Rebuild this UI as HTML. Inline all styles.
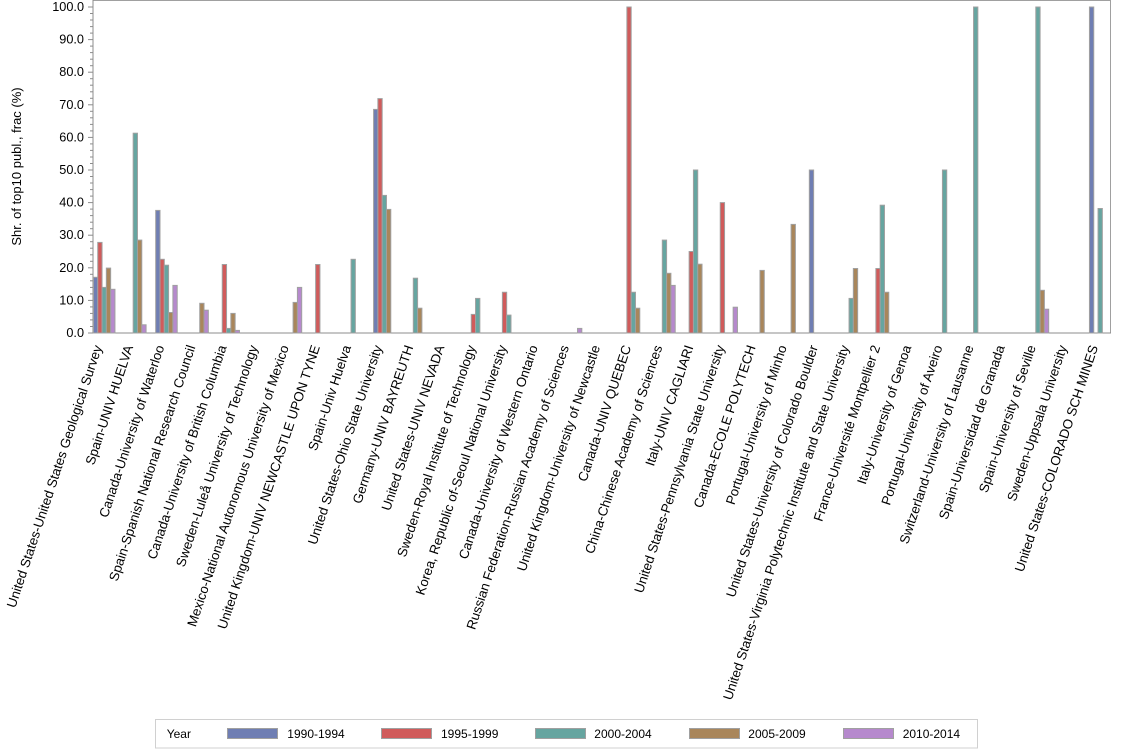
<!DOCTYPE html>
<html>
<head>
<meta charset="utf-8">
<style>
  html,body{margin:0;padding:0;background:#fff;}
  svg{display:block;}
  text{font-family:"Liberation Sans",Arial,sans-serif;fill:#000;}
</style>
</head>
<body>
<svg width="1134" height="756" viewBox="0 0 1134 756" xmlns="http://www.w3.org/2000/svg">
  <rect x="0" y="0" width="1134" height="756" fill="#fff"/>

  <!-- frame -->
  <path d="M93 0.5 H1110.5 V333" fill="none" stroke="#a0a0a0" stroke-width="1"/>
  <line x1="93" y1="0" x2="93" y2="333.5" stroke="#8c8c8c" stroke-width="1"/>
  <line x1="92.5" y1="333" x2="1111" y2="333" stroke="#8c8c8c" stroke-width="1"/>

  <!-- y ticks -->
  <g stroke="#8c8c8c" stroke-width="1">
    <line x1="88" y1="333" x2="93" y2="333"/>
    <line x1="88" y1="300.4" x2="93" y2="300.4"/>
    <line x1="88" y1="267.8" x2="93" y2="267.8"/>
    <line x1="88" y1="235.2" x2="93" y2="235.2"/>
    <line x1="88" y1="202.6" x2="93" y2="202.6"/>
    <line x1="88" y1="170" x2="93" y2="170"/>
    <line x1="88" y1="137.4" x2="93" y2="137.4"/>
    <line x1="88" y1="104.8" x2="93" y2="104.8"/>
    <line x1="88" y1="72.2" x2="93" y2="72.2"/>
    <line x1="88" y1="39.6" x2="93" y2="39.6"/>
    <line x1="88" y1="7" x2="93" y2="7"/>
  </g>
  <g stroke="#8c8c8c" stroke-width="1">
    <line x1="90" y1="326.5" x2="93" y2="326.5"/><line x1="90" y1="319.9" x2="93" y2="319.9"/><line x1="90" y1="313.4" x2="93" y2="313.4"/><line x1="90" y1="306.9" x2="93" y2="306.9"/>
    <line x1="90" y1="293.9" x2="93" y2="293.9"/><line x1="90" y1="287.4" x2="93" y2="287.4"/><line x1="90" y1="280.8" x2="93" y2="280.8"/><line x1="90" y1="274.3" x2="93" y2="274.3"/>
    <line x1="90" y1="261.3" x2="93" y2="261.3"/><line x1="90" y1="254.8" x2="93" y2="254.8"/><line x1="90" y1="248.2" x2="93" y2="248.2"/><line x1="90" y1="241.7" x2="93" y2="241.7"/>
    <line x1="90" y1="228.7" x2="93" y2="228.7"/><line x1="90" y1="222.2" x2="93" y2="222.2"/><line x1="90" y1="215.6" x2="93" y2="215.6"/><line x1="90" y1="209.1" x2="93" y2="209.1"/>
    <line x1="90" y1="196.1" x2="93" y2="196.1"/><line x1="90" y1="189.6" x2="93" y2="189.6"/><line x1="90" y1="183" x2="93" y2="183"/><line x1="90" y1="176.5" x2="93" y2="176.5"/>
    <line x1="90" y1="163.5" x2="93" y2="163.5"/><line x1="90" y1="157" x2="93" y2="157"/><line x1="90" y1="150.4" x2="93" y2="150.4"/><line x1="90" y1="143.9" x2="93" y2="143.9"/>
    <line x1="90" y1="130.9" x2="93" y2="130.9"/><line x1="90" y1="124.4" x2="93" y2="124.4"/><line x1="90" y1="117.8" x2="93" y2="117.8"/><line x1="90" y1="111.3" x2="93" y2="111.3"/>
    <line x1="90" y1="98.3" x2="93" y2="98.3"/><line x1="90" y1="91.8" x2="93" y2="91.8"/><line x1="90" y1="85.2" x2="93" y2="85.2"/><line x1="90" y1="78.7" x2="93" y2="78.7"/>
    <line x1="90" y1="65.7" x2="93" y2="65.7"/><line x1="90" y1="59.2" x2="93" y2="59.2"/><line x1="90" y1="52.6" x2="93" y2="52.6"/><line x1="90" y1="46.1" x2="93" y2="46.1"/>
    <line x1="90" y1="33.1" x2="93" y2="33.1"/><line x1="90" y1="26.6" x2="93" y2="26.6"/><line x1="90" y1="20" x2="93" y2="20"/><line x1="90" y1="13.5" x2="93" y2="13.5"/>
  </g>

  <!-- y tick labels -->
  <g font-size="12.7" text-anchor="end">
    <text x="84" y="337">0.0</text>
    <text x="84" y="304.4">10.0</text>
    <text x="84" y="271.8">20.0</text>
    <text x="84" y="239.2">30.0</text>
    <text x="84" y="206.6">40.0</text>
    <text x="84" y="174">50.0</text>
    <text x="84" y="141.4">60.0</text>
    <text x="84" y="108.8">70.0</text>
    <text x="84" y="76.2">80.0</text>
    <text x="84" y="43.6">90.0</text>
    <text x="84" y="11">100.0</text>
  </g>

  <!-- y title -->
  <text font-size="13" text-anchor="middle" transform="translate(21,166.5) rotate(-90)">Shr. of top10 publ., frac (%)</text>

  <!-- bars -->
  <g stroke="#a0a0a0" stroke-width="1">
    <!-- 0 USGS -->
    <rect x="93.45" y="277.3" width="4.3" height="55.7" fill="#6F7EB3"/>
    <rect x="97.75" y="242.4" width="4.3" height="90.6" fill="#D05B5B"/>
    <rect x="102.05" y="287.4" width="4.3" height="45.6" fill="#66A5A0"/>
    <rect x="106.35" y="268.1" width="4.3" height="64.9" fill="#A9865B"/>
    <rect x="110.65" y="289.3" width="4.3" height="43.7" fill="#B689CD"/>
    <!-- 1 Spain-UNIV HUELVA -->
    <rect x="133.18" y="133.2" width="4.3" height="199.8" fill="#66A5A0"/>
    <rect x="137.48" y="240.1" width="4.3" height="92.9" fill="#A9865B"/>
    <rect x="141.78" y="324.8" width="4.3" height="8.2" fill="#B689CD"/>
    <!-- 2 Waterloo -->
    <rect x="155.7" y="210.4" width="4.3" height="122.6" fill="#6F7EB3"/>
    <rect x="160.0" y="259.3" width="4.3" height="73.7" fill="#D05B5B"/>
    <rect x="164.3" y="265.2" width="4.3" height="67.8" fill="#66A5A0"/>
    <rect x="168.6" y="312.5" width="4.3" height="20.5" fill="#A9865B"/>
    <rect x="172.9" y="285.4" width="4.3" height="47.6" fill="#B689CD"/>
    <!-- 3 CSIC -->
    <rect x="199.73" y="303.3" width="4.3" height="29.7" fill="#A9865B"/>
    <rect x="204.03" y="310.2" width="4.3" height="22.8" fill="#B689CD"/>
    <!-- 4 UBC -->
    <rect x="222.25" y="264.5" width="4.3" height="68.5" fill="#D05B5B"/>
    <rect x="226.55" y="328.4" width="4.3" height="4.6" fill="#66A5A0"/>
    <rect x="230.85" y="313.4" width="4.3" height="19.6" fill="#A9865B"/>
    <rect x="235.15" y="330.4" width="4.3" height="2.6" fill="#B689CD"/>
    <!-- 6 Mexico -->
    <rect x="293.1" y="302.4" width="4.3" height="30.6" fill="#A9865B"/>
    <rect x="297.4" y="287.4" width="4.3" height="45.6" fill="#B689CD"/>
    <!-- 7 Newcastle upon Tyne -->
    <rect x="315.63" y="264.5" width="4.3" height="68.5" fill="#D05B5B"/>
    <!-- 8 Spain-Univ Huelva -->
    <rect x="351.05" y="259.3" width="4.3" height="73.7" fill="#66A5A0"/>
    <!-- 9 Ohio State -->
    <rect x="373.58" y="109.4" width="4.3" height="223.6" fill="#6F7EB3"/>
    <rect x="377.88" y="98.6" width="4.3" height="234.4" fill="#D05B5B"/>
    <rect x="382.18" y="195.4" width="4.3" height="137.6" fill="#66A5A0"/>
    <rect x="386.48" y="209.4" width="4.3" height="123.6" fill="#A9865B"/>
    <!-- 10 Bayreuth -->
    <rect x="413.3" y="278.2" width="4.3" height="54.8" fill="#66A5A0"/>
    <rect x="417.6" y="308.2" width="4.3" height="24.8" fill="#A9865B"/>
    <!-- 12 KTH -->
    <rect x="471.25" y="314.4" width="4.3" height="18.6" fill="#D05B5B"/>
    <rect x="475.55" y="298.4" width="4.3" height="34.6" fill="#66A5A0"/>
    <!-- 13 Seoul -->
    <rect x="502.38" y="292.25" width="4.3" height="40.75" fill="#D05B5B"/>
    <rect x="506.68" y="315.1" width="4.3" height="17.9" fill="#66A5A0"/>
    <!-- 15 Russian Academy -->
    <rect x="577.53" y="328.4" width="4.3" height="4.6" fill="#B689CD"/>
    <!-- 17 UNIV QUEBEC -->
    <rect x="626.88" y="7" width="4.3" height="326" fill="#D05B5B"/>
    <rect x="631.18" y="292.25" width="4.3" height="40.75" fill="#66A5A0"/>
    <rect x="635.48" y="308.2" width="4.3" height="24.8" fill="#A9865B"/>
    <!-- 18 CAS -->
    <rect x="662.3" y="240.1" width="4.3" height="92.9" fill="#66A5A0"/>
    <rect x="666.6" y="273.3" width="4.3" height="59.7" fill="#A9865B"/>
    <rect x="670.9" y="285.4" width="4.3" height="47.6" fill="#B689CD"/>
    <!-- 19 Cagliari -->
    <rect x="689.13" y="251.5" width="4.3" height="81.5" fill="#D05B5B"/>
    <rect x="693.43" y="170" width="4.3" height="163" fill="#66A5A0"/>
    <rect x="697.73" y="264.2" width="4.3" height="68.8" fill="#A9865B"/>
    <!-- 20 Penn State -->
    <rect x="720.25" y="202.6" width="4.3" height="130.4" fill="#D05B5B"/>
    <rect x="733.15" y="307.2" width="4.3" height="25.8" fill="#B689CD"/>
    <!-- 21 Ecole Polytech -->
    <rect x="759.98" y="270.4" width="4.3" height="62.6" fill="#A9865B"/>
    <!-- 22 Minho -->
    <rect x="791.1" y="224.4" width="4.3" height="108.6" fill="#A9865B"/>
    <!-- 23 Colorado Boulder -->
    <rect x="809.33" y="170" width="4.3" height="163" fill="#6F7EB3"/>
    <!-- 24 Virginia Tech -->
    <rect x="849.05" y="298.4" width="4.3" height="34.6" fill="#66A5A0"/>
    <rect x="853.35" y="268.5" width="4.3" height="64.5" fill="#A9865B"/>
    <!-- 25 Montpellier -->
    <rect x="875.88" y="268.5" width="4.3" height="64.5" fill="#D05B5B"/>
    <rect x="880.18" y="205.2" width="4.3" height="127.8" fill="#66A5A0"/>
    <rect x="884.48" y="292.25" width="4.3" height="40.75" fill="#A9865B"/>
    <!-- 27 Aveiro -->
    <rect x="942.43" y="170" width="4.3" height="163" fill="#66A5A0"/>
    <!-- 28 Lausanne -->
    <rect x="973.55" y="7" width="4.3" height="326" fill="#66A5A0"/>
    <!-- 30 Seville -->
    <rect x="1035.8" y="7" width="4.3" height="326" fill="#66A5A0"/>
    <rect x="1040.1" y="290.3" width="4.3" height="42.7" fill="#A9865B"/>
    <rect x="1044.4" y="309.2" width="4.3" height="23.8" fill="#B689CD"/>
    <!-- 32 Colorado Sch Mines -->
    <rect x="1089.45" y="7" width="4.3" height="326" fill="#6F7EB3"/>
    <rect x="1098.05" y="208.5" width="4.3" height="124.5" fill="#66A5A0"/>
  </g>

  <!-- x labels -->
  <g font-size="13.3" text-anchor="end">
    <text transform="translate(102.2,347) rotate(-71.6)">United States-United States Geological Survey</text>
    <text transform="translate(133.33,347) rotate(-71.6)">Spain-UNIV HUELVA</text>
    <text transform="translate(164.45,347) rotate(-71.6)">Canada-University of Waterloo</text>
    <text transform="translate(195.58,347) rotate(-71.6)">Spain-Spanish National Research Council</text>
    <text transform="translate(226.7,347) rotate(-71.6)">Canada-University of British Columbia</text>
    <text transform="translate(257.83,347) rotate(-71.6)">Sweden-Luleå University of Technology</text>
    <text transform="translate(288.95,347) rotate(-71.6)">Mexico-National Autonomous University of Mexico</text>
    <text transform="translate(320.08,347) rotate(-71.6)">United Kingdom-UNIV NEWCASTLE UPON TYNE</text>
    <text transform="translate(351.2,347) rotate(-71.6)">Spain-Univ Huelva</text>
    <text transform="translate(382.33,347) rotate(-71.6)">United States-Ohio State University</text>
    <text transform="translate(413.45,347) rotate(-71.6)">Germany-UNIV BAYREUTH</text>
    <text transform="translate(444.58,347) rotate(-71.6)">United States-UNIV NEVADA</text>
    <text transform="translate(475.7,347) rotate(-71.6)">Sweden-Royal Institute of Technology</text>
    <text transform="translate(506.83,347) rotate(-71.6)">Korea, Republic of-Seoul National University</text>
    <text transform="translate(537.95,347) rotate(-71.6)">Canada-University of Western Ontario</text>
    <text transform="translate(569.08,347) rotate(-71.6)">Russian Federation-Russian Academy of Sciences</text>
    <text transform="translate(600.2,347) rotate(-71.6)">United Kingdom-University of Newcastle</text>
    <text transform="translate(631.33,347) rotate(-71.6)">Canada-UNIV QUEBEC</text>
    <text transform="translate(662.45,347) rotate(-71.6)">China-Chinese Academy of Sciences</text>
    <text transform="translate(693.58,347) rotate(-71.6)">Italy-UNIV CAGLIARI</text>
    <text transform="translate(724.7,347) rotate(-71.6)">United States-Pennsylvania State University</text>
    <text transform="translate(755.83,347) rotate(-71.6)">Canada-ECOLE POLYTECH</text>
    <text transform="translate(786.95,347) rotate(-71.6)">Portugal-University of Minho</text>
    <text transform="translate(818.08,347) rotate(-71.6)">United States-University of Colorado Boulder</text>
    <text transform="translate(849.2,347) rotate(-71.6)">United States-Virginia Polytechnic Institute and State University</text>
    <text transform="translate(880.33,347) rotate(-71.6)">France-Université Montpellier 2</text>
    <text transform="translate(911.45,347) rotate(-71.6)">Italy-University of Genoa</text>
    <text transform="translate(942.58,347) rotate(-71.6)">Portugal-University of Aveiro</text>
    <text transform="translate(973.7,347) rotate(-71.6)">Switzerland-University of Lausanne</text>
    <text transform="translate(1004.83,347) rotate(-71.6)">Spain-Universidad de Granada</text>
    <text transform="translate(1035.95,347) rotate(-71.6)">Spain-University of Seville</text>
    <text transform="translate(1067.08,347) rotate(-71.6)">Sweden-Uppsala University</text>
    <text transform="translate(1098.2,347) rotate(-71.6)">United States-COLORADO SCH MINES</text>
  </g>

  <!-- legend -->
  <rect x="155.5" y="719.5" width="822" height="28.5" fill="#fff" stroke="#d0d0d0" stroke-width="1"/>
  <g font-size="12">
    <text x="166.7" y="738">Year</text>
    <rect x="227.5" y="728.5" width="50" height="10" fill="#6F7EB3" stroke="#a0a0a0" stroke-width="1"/>
    <text x="287.3" y="738">1990-1994</text>
    <rect x="381.5" y="728.5" width="50" height="10" fill="#D05B5B" stroke="#a0a0a0" stroke-width="1"/>
    <text x="441" y="738">1995-1999</text>
    <rect x="535.5" y="728.5" width="50" height="10" fill="#66A5A0" stroke="#a0a0a0" stroke-width="1"/>
    <text x="594.3" y="738">2000-2004</text>
    <rect x="689.5" y="728.5" width="50" height="10" fill="#A9865B" stroke="#a0a0a0" stroke-width="1"/>
    <text x="748.3" y="738">2005-2009</text>
    <rect x="843.5" y="728.5" width="50" height="10" fill="#B689CD" stroke="#a0a0a0" stroke-width="1"/>
    <text x="902.7" y="738">2010-2014</text>
  </g>
</svg>
</body>
</html>
